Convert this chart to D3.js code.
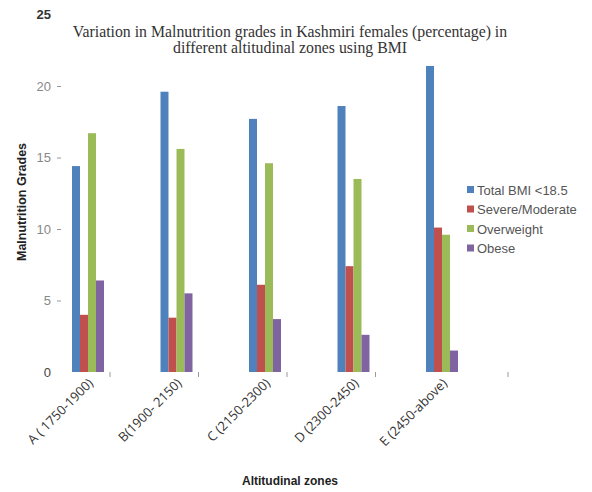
<!DOCTYPE html>
<html>
<head>
<meta charset="utf-8">
<script src="https://cdn.jsdelivr.net/npm/d3@7"></script>
<style>
  html, body { margin: 0; padding: 0; background: #fff; }
  svg { display: block; }
</style>
</head>
<body>
<svg id="chart" width="592" height="492"></svg>
<script>
// Altitudinal zones (x categories)
const zones = ["A ( 1750-1900)", "B(1900- 2150)", "C (2150-2300)", "D (2300-2450)", "E (2450-above)"];
// Series names
const seriesNames = ["Total BMI <18.5", "Severe/Moderate", "Overweight", "Obese"];
// Values per series, in zone order (percentage)
const totalBMI = [14.4, 19.6, 17.7, 18.6, 21.4];
const severeModerate = [4.0, 3.8, 6.1, 7.4, 10.1];
const overweight = [16.7, 15.6, 14.6, 13.5, 9.6];
const obese = [6.4, 5.5, 3.7, 2.6, 1.5];
// Y axis ticks
const yTicks = [0, 5, 10, 15, 20, 25];

const seriesValues = [totalBMI, severeModerate, overweight, obese];
const colors = ["#4F81BD", "#C0504D", "#9BBB59", "#8064A2"];

const svg = d3.select("#chart");

// Layout
const groupWidth = 32, groupStep = 88.5, firstGroup = 72;
const plotRight = 508;

const y = d3.scaleLinear().domain([0, 25]).range([372, 14.5]);

const x0 = d3.scaleBand()
  .domain(zones)
  .range([firstGroup, firstGroup + (zones.length - 1) * groupStep + groupWidth])
  .paddingInner(1 - groupWidth / groupStep)
  .paddingOuter(0)
  .align(0);

const x1 = d3.scaleBand()
  .domain(seriesNames)
  .range([0, x0.bandwidth()]);

const color = d3.scaleOrdinal().domain(seriesNames).range(colors);

// Title
const title = svg.append("text")
  .attr("text-anchor", "middle")
  .attr("font-family", "Liberation Serif, Times New Roman, serif")
  .attr("font-size", 15.8)
  .attr("fill", "#333");
title.append("tspan").attr("x", 290).attr("y", 37)
  .text("Variation in Malnutrition grades in Kashmiri females (percentage) in");
title.append("tspan").attr("x", 290).attr("y", 53)
  .text("different altitudinal zones using BMI");

// Y axis
const yAxis = d3.axisLeft(y).tickValues(yTicks).tickSize(4).tickPadding(6)
  .tickFormat(d3.format("d"));
const gy = svg.append("g").attr("transform", "translate(61,0)").call(yAxis);
gy.select(".domain").remove();
gy.selectAll(".tick line")
  .attr("stroke", "#999")
  .attr("opacity", d => (d === 0 || d === 25) ? 0 : 1);
gy.selectAll(".tick text")
  .attr("font-family", "Liberation Sans, Arial, sans-serif")
  .attr("font-size", 13)
  .attr("fill", d => d === 25 ? "#333" : (d === 0 ? "#444" : "#888"))
  .attr("font-weight", d => d === 25 ? "bold" : "normal");

// Bars
const groups = svg.append("g").selectAll("g")
  .data(zones)
  .join("g")
  .attr("transform", d => `translate(${x0(d)},0)`);

groups.selectAll("rect")
  .data((z, i) => seriesNames.map((s, j) => ({ series: s, value: seriesValues[j][i] })))
  .join("rect")
  .attr("x", d => x1(d.series))
  .attr("y", d => y(d.value))
  .attr("width", x1.bandwidth())
  .attr("height", d => y(0) - y(d.value))
  .attr("fill", d => color(d.series));

// Category tick marks on the x axis (after each group and at the axis end)
const tickXs = zones.slice(0, 4).map(z => x0(z) + x0.bandwidth() + 6).concat([plotRight]);
svg.append("g").selectAll("line")
  .data(tickXs)
  .join("line")
  .attr("x1", d => d).attr("x2", d => d)
  .attr("y1", y(0)).attr("y2", y(0) + 5)
  .attr("stroke", "#999");

// Category labels, rotated
svg.append("g").selectAll("text")
  .data(zones)
  .join("text")
  .attr("transform", d => `translate(${x0(d) + x0.bandwidth() / 2 + 6},384) rotate(-45)`)
  .attr("text-anchor", "end")
  .attr("font-family", "Open Sans, Liberation Sans, sans-serif")
  .attr("font-size", 13)
  .attr("fill", "#333")
  .text(d => d);

// Axis titles
svg.append("text")
  .attr("transform", "translate(26,202) rotate(-90)")
  .attr("text-anchor", "middle")
  .attr("font-family", "Liberation Sans, Arial, sans-serif")
  .attr("font-weight", "bold")
  .attr("font-size", 12.5)
  .attr("fill", "#222")
  .text("Malnutrition Grades");

svg.append("text")
  .attr("x", 290).attr("y", 485)
  .attr("text-anchor", "middle")
  .attr("font-family", "Liberation Sans, Arial, sans-serif")
  .attr("font-weight", "bold")
  .attr("font-size", 12)
  .attr("fill", "#222")
  .text("Altitudinal zones");

// Legend
const legend = svg.append("g").selectAll("g")
  .data(seriesNames)
  .join("g")
  .attr("transform", (d, i) => `translate(467,${190 + i * 19.5})`);
legend.append("rect")
  .attr("x", 0).attr("y", -4)
  .attr("width", 7).attr("height", 7)
  .attr("fill", d => color(d));
legend.append("text")
  .attr("x", 10).attr("y", 4.5)
  .attr("font-family", "Liberation Sans, Arial, sans-serif")
  .attr("font-size", 13)
  .attr("fill", "#555")
  .text(d => d);
</script>
</body>
</html>
